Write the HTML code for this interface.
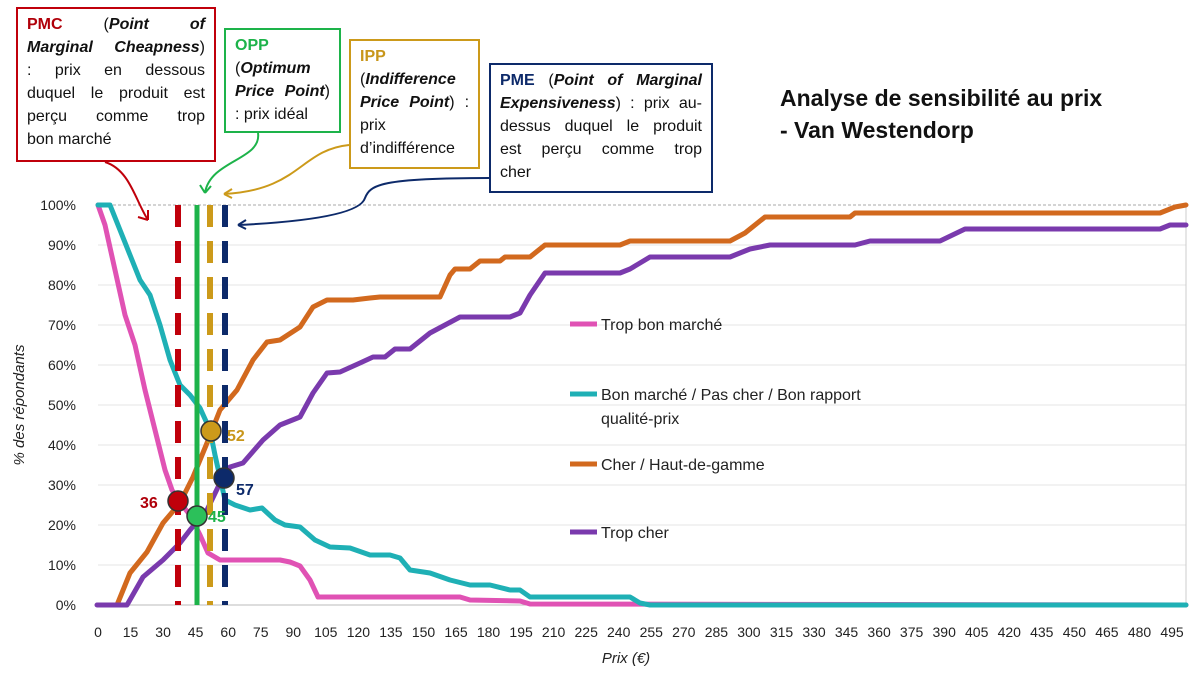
<!DOCTYPE html>
<html><head><meta charset="utf-8"><style>
body{margin:0;background:#fff;}
svg{display:block;font-family:"Liberation Sans",sans-serif;}
.box{position:absolute;background:#fff;font-family:"Liberation Sans",sans-serif;font-size:16px;line-height:23px;color:#111;padding:4px 9px;box-sizing:border-box;}
.j{text-align:justify;text-align-last:justify;white-space:nowrap;}
.l{text-align:left;white-space:nowrap;}
</style></head><body>
<div style="position:relative;width:1200px;height:675px;overflow:hidden;">
<svg width="1200" height="675" viewBox="0 0 1200 675">
<g stroke="#e4e4e4" stroke-width="1">
<line x1="98" y1="245" x2="1186" y2="245"/><line x1="98" y1="285" x2="1186" y2="285"/>
<line x1="98" y1="325" x2="1186" y2="325"/><line x1="98" y1="365" x2="1186" y2="365"/>
<line x1="98" y1="405" x2="1186" y2="405"/><line x1="98" y1="445" x2="1186" y2="445"/>
<line x1="98" y1="485" x2="1186" y2="485"/><line x1="98" y1="525" x2="1186" y2="525"/>
<line x1="98" y1="565" x2="1186" y2="565"/>
</g>
<line x1="98" y1="205" x2="1186" y2="205" stroke="#aaa" stroke-width="1" stroke-dasharray="3,2"/>
<line x1="1186" y1="205" x2="1186" y2="605" stroke="#ccc"/>
<line x1="98" y1="605" x2="1186" y2="605" stroke="#bbb"/>
<g font-size="14" fill="#222" text-anchor="end">
<text x="76" y="210">100%</text><text x="76" y="250">90%</text><text x="76" y="290">80%</text>
<text x="76" y="330">70%</text><text x="76" y="370">60%</text><text x="76" y="410">50%</text>
<text x="76" y="450">40%</text><text x="76" y="490">30%</text><text x="76" y="530">20%</text>
<text x="76" y="570">10%</text><text x="76" y="610">0%</text>
</g>
<g font-size="14" fill="#222" text-anchor="middle" id="xt"></g>
<text x="626" y="663" font-size="15" font-style="italic" text-anchor="middle" fill="#222">Prix (€)</text>
<text transform="translate(24,405) rotate(-90)" font-size="15" font-style="italic" text-anchor="middle" fill="#222">% des répondants</text>

<g fill="none" stroke-width="5" stroke-linejoin="round" stroke-linecap="round">
<polyline stroke="#e052b4" points="98,205 105,225 115,270 125,315 135,345 145,390 155,430 165,470 172,490 178,500 190,515 200,535 208,553 220,560 240,560 280,560 290,562 300,566 310,580 318,597 330,597 400,597 460,597 470,600 520,601 530,604 1186,605"/>
<polyline stroke="#1fb0b5" points="98,205 110,205 120,230 130,255 140,280 150,295 160,325 170,360 180,385 190,395 200,408 210,430 215,455 225,500 235,505 250,510 262,508 275,520 285,525 300,527 315,540 330,547 350,548 370,555 390,555 400,558 410,570 430,573 450,580 470,585 490,585 510,590 520,590 530,597 630,597 640,603 650,605 1186,605"/>
<polyline stroke="#d2691e" points="98,605 117,605 130,573 147,552 163,523 180,503 193,477 207,443 220,410 237,390 253,360 267,342 280,340 300,327 313,307 327,300 353,300 370,298 380,297 400,297 440,297 450,275 455,269 470,269 480,261 500,261 505,257 530,257 545,245 620,245 630,241 730,241 745,233 765,217 850,217 855,213 1160,213 1175,207 1186,205"/>
<polyline stroke="#7a3aad" points="97,605 127,605 143,577 163,560 180,543 190,530 207,510 220,483 230,467 243,463 263,440 280,425 300,417 313,393 327,373 340,372 360,363 373,357 385,357 395,349 410,349 430,333 445,325 460,317 510,317 520,313 530,295 545,273 620,273 630,269 650,257 730,257 750,249 770,245 855,245 870,241 940,241 965,229 1160,229 1170,225 1186,225"/>
</g>
<line x1="178" y1="205" x2="178" y2="605" stroke="#c0000b" stroke-width="6" stroke-dasharray="22,14"/>
<line x1="210" y1="205" x2="210" y2="605" stroke="#cc9a1a" stroke-width="6" stroke-dasharray="22,14"/>
<line x1="225" y1="205" x2="225" y2="605" stroke="#0d2a6a" stroke-width="6" stroke-dasharray="22,14"/>
<line x1="197" y1="205" x2="197" y2="605" stroke="#1db34a" stroke-width="5"/>
<g stroke="#333" stroke-width="1.5">
<circle cx="178" cy="501" r="10" fill="#c0000b"/>
<circle cx="197" cy="516" r="10" fill="#2cc05a"/>
<circle cx="211" cy="431" r="10" fill="#cc9a1a"/>
<circle cx="224" cy="478" r="10" fill="#0d2a6a"/>
</g>
<g font-size="16" font-weight="bold">
<text x="140" y="508" fill="#b0000a">36</text>
<text x="208" y="522" fill="#1db34a">45</text>
<text x="227" y="441" fill="#c8961a">52</text>
<text x="236" y="495" fill="#0d2a6a">57</text>
</g>
<g stroke-width="5">
<line x1="570" y1="324" x2="597" y2="324" stroke="#e052b4"/>
<line x1="570" y1="394" x2="597" y2="394" stroke="#1fb0b5"/>
<line x1="570" y1="464" x2="597" y2="464" stroke="#d2691e"/>
<line x1="570" y1="532" x2="597" y2="532" stroke="#7a3aad"/>
</g>
<g font-size="16" fill="#222">
<text x="601" y="330">Trop bon marché</text>
<text x="601" y="400">Bon marché / Pas cher / Bon rapport</text>
<text x="601" y="424">qualité-prix</text>
<text x="601" y="470">Cher / Haut-de-gamme</text>
<text x="601" y="538">Trop cher</text>
</g>
<g font-size="23" font-weight="bold" fill="#111">
<text x="780" y="106">Analyse de sensibilité au prix</text>
<text x="780" y="138">- Van Westendorp</text>
</g>
<g fill="none" stroke-width="2">
<path d="M105,162 C130,170 135,200 148,220" stroke="#c0000b"/>
<path d="M148,220 l-10,-3 M148,220 l0,-10" stroke="#c0000b"/>
<path d="M258,133 C262,160 210,160 205,193" stroke="#1db34a"/>
<path d="M205,193 l-5,-8 M205,193 l6,-7" stroke="#1db34a"/>
<path d="M349,145 C300,150 300,190 224,194" stroke="#cc9a1a"/>
<path d="M224,194 l8,-5 M224,194 l8,4" stroke="#cc9a1a"/>
<path d="M489,178 C380,178 370,185 365,198 C360,215 300,222 238,225" stroke="#0d2a6a"/>
<path d="M238,225 l8,-5 M238,225 l8,4" stroke="#0d2a6a"/>
</g>
</svg>
<div class="box" style="left:16px;top:7px;width:200px;height:155px;border:2px solid #c0000b;">
<div class="j"><b style="color:#b0000a">PMC</b> (<b><i>Point</i></b> <b><i>of</i></b></div>
<div class="j"><b><i>Marginal</i></b> <b><i>Cheapness</i></b>)</div>
<div class="j">: prix en dessous</div>
<div class="j">duquel le produit est</div>
<div class="j">perçu comme trop</div>
<div class="l">bon marché</div></div>
<div class="box" style="left:224px;top:28px;width:117px;height:105px;border:2px solid #1db34a;">
<div class="l"><b style="color:#1db34a">OPP</b></div>
<div class="l">(<b><i>Optimum</i></b></div>
<div class="j"><b><i>Price Point</i></b>)</div>
<div class="l">: prix idéal</div></div>
<div class="box" style="left:349px;top:39px;width:131px;height:130px;border:2px solid #cc9a1a;">
<div class="l"><b style="color:#c8961a">IPP</b></div>
<div class="l">(<b><i>Indifference</i></b></div>
<div class="j"><b><i>Price Point</i></b>) :</div>
<div class="l">prix</div>
<div class="l">d’indifférence</div></div>
<div class="box" style="left:489px;top:63px;width:224px;height:130px;border:2px solid #0d2a6a;">
<div class="j"><b style="color:#0d2a6a">PME</b> (<b><i>Point of Marginal</i></b></div>
<div class="j"><b><i>Expensiveness</i></b>) : prix au-</div>
<div class="j">dessus duquel le produit</div>
<div class="j">est perçu comme trop</div>
<div class="l">cher</div></div>
</div>
<script>
var g=document.getElementById('xt'),s='';
for(var p=0;p<=495;p+=15){s+='<text x="'+(98+p*2.1697).toFixed(1)+'" y="637">'+p+'</text>';}
g.innerHTML=s;
</script>
</body></html>
